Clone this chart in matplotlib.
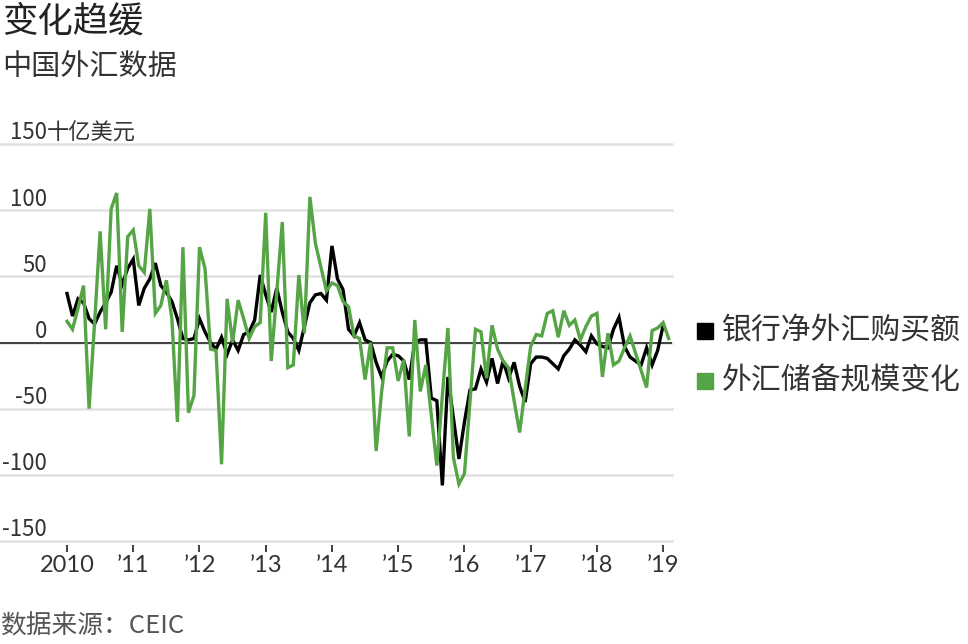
import matplotlib
matplotlib.use('Agg')
import matplotlib.pyplot as plt
import numpy as np
from matplotlib.patches import Rectangle
from matplotlib.transforms import blended_transform_factory

plt.rcParams['font.family'] = ['Noto Sans CJK SC', 'DejaVu Sans']

# 月度数据, 2010年1月起 (十亿美元)
bank_net_fx = [37, 20, 33, 30, 18, 14, 23, 30, 38, 58, 44, 56,
               63, 28, 41, 48, 60, 43, 38, 31, 18, 3, 2, 3,
               18, 8, 0, -5, 4, -9, 2, -6, 6, 8, 17, 51,
               36, 23, 41, 23, 8, 3, -6, 12, 30, 36, 37, 32,
               73, 48, 40, 10, 5, 15, 2, 0, -15, -26, -14, -9,
               -10, -14, -28, 0, 2, 2, -42, -44, -108, -26, -57, -88,
               -60, -36, -35, -20, -30, -12, -31, -14, -27, -15, -33, -45,
               -16, -11, -11, -12, -16, -20, -10, -5, 2, -2, -7, 5,
               -1, -3, -4, 10, 19, -3, -11, -14, -17, -4, -17, -6,
               13]
reserve_change = [16, 10, 26, 43, -50, 15, 84, 10, 101, 113, 8, 80,
                  85, 58, 53, 101, 22, 28, 47, 18, -60, 72, -53, -40,
                  72, 56, -5, -6, -92, 33, 0, 32, 18, 3, 12, 15,
                  98, -14, 38, 91, -19, -17, 51, 7, 110, 75, 57, 39,
                  45, 43, 31, 27, 5, 3, -28, 0, -82, -37, -4, -4,
                  -29, -13, -71, 17, -37, -17, -55, -93, -40, 11, -87, -107,
                  -99, -45, 10, 8, -27, 13, -5, -14, -19, -44, -68, -35,
                  -3, 6, 5, 22, 24, 4, 24, 13, 17, 2, 12, 20,
                  22, -26, 7, -17, -14, -4, 5, -8, -21, -34, 9, 11,
                  15, 3]

year_labels = ['2010', '’11', '’12', '’13', '’14', '’15', '’16', '’17', '’18', '’19']
y_ticks = [150, 100, 50, 0, -50, -100, -150]
legend_labels = ['银行净外汇购买额', '外汇储备规模变化']

GREEN = '#55a546'
TXT = '#333333'
W, H = 968, 644

fig = plt.figure(figsize=(W / 100, H / 100), dpi=100)
ax = fig.add_axes([0, 1 - 541 / H, 672 / W, (541 - 144) / H])

x_black = np.arange(len(bank_net_fx))
x_green = np.arange(len(reserve_change))
ax.plot(x_black, bank_net_fx, color='black', lw=2.4, zorder=3, solid_joinstyle='miter')
ax.plot(x_green, reserve_change, color=GREEN, lw=2.4, zorder=4, solid_joinstyle='miter')
ax.axhline(0, color='#333333', lw=1.3, zorder=2)

ax.set_xlim(-67 / 5.52, (672 - 67) / 5.52)
ax.set_ylim(-150, 150)

ax.set_yticks(y_ticks)
ax.yaxis.grid(True, color='#e2e2e2', lw=1.8)
for gl in ax.get_ygridlines():
    gl.set_clip_on(False)
ax.tick_params(axis='y', length=0, labelleft=False)

year_ticks = np.arange(0, 12 * len(year_labels), 12)
ax.set_xticks(year_ticks)
ax.tick_params(axis='x', length=5, width=1.3, color=TXT, labelbottom=False)
for s in ax.spines.values():
    s.set_visible(False)
ax.spines['bottom'].set_position(('outward', 3))

# x轴标签 (用拉丁字体, 撇号才是窄的)
trx = blended_transform_factory(ax.transData, ax.transAxes)
for xt, lab in zip(year_ticks, year_labels):
    ax.text(xt, -24 / 397, lab, transform=trx, ha='center', va='center',
            fontsize=17, color=TXT, family=['Lato', 'DejaVu Sans'])

# y轴标签写在网格线上方
tr = blended_transform_factory(ax.transAxes, ax.transData)
xl = 47 / 672
for v in y_ticks:
    ax.text(xl, v + 3.5, str(v), transform=tr, ha='right', va='baseline',
            fontsize=16, color=TXT)
ax.text(xl, 150 + 3.5, '十亿美元', transform=tr, ha='left', va='baseline', fontsize=16, color=TXT)

fig.text(2 / W, 1 - 22 / H, '变化趋缓', fontsize=25.5, color='#222222', va='center', ha='left')
fig.text(2 / W, 1 - 67 / H, '中国外汇数据', fontsize=21, color=TXT, va='center', ha='left')
fig.text(0, 1 - 627 / H, '数据来源：CEIC', fontsize=18.5, color='#555555', va='center', ha='left')

for i, (lab, col) in enumerate(zip(legend_labels, ['black', GREEN])):
    yc = 331 + 50 * i
    fig.patches.append(Rectangle((697 / W, 1 - (yc + 8) / H), 16 / W, 16 / H,
                                 transform=fig.transFigure, color=col))
    fig.text(722 / W, 1 - yc / H, lab, fontsize=21.5, color=TXT, va='center', ha='left')

fig.savefig('out.png', dpi=100)
